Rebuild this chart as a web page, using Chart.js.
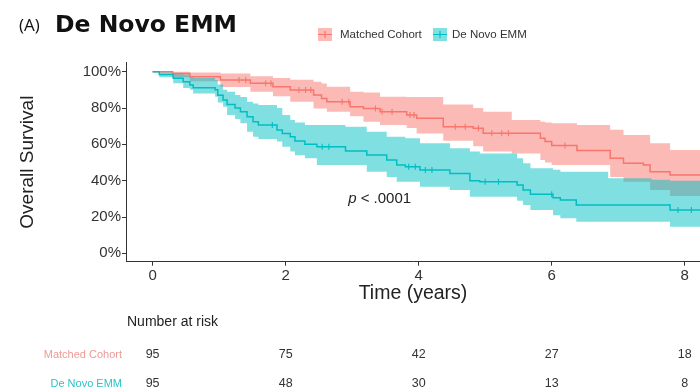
<!DOCTYPE html>
<html>
<head>
<meta charset="utf-8">
<script src="https://cdn.jsdelivr.net/npm/chart.js@4.4.1/dist/chart.umd.min.js"></script>
<style>
  html, body { margin: 0; padding: 0; background: #fff; }
  #wrap { position: relative; width: 700px; height: 389px; }
</style>
</head>
<body>
<div id="wrap"><canvas id="km"></canvas></div>
<script>
// Matched Cohort : temps (années), survie, IC haut / bas
const matchedTimes = [0, 0.3, 0.56, 1.02, 1.47, 1.81, 2.07, 2.42, 2.54, 2.62, 2.97, 3.17, 3.42, 3.82, 3.97, 4.37, 4.82, 4.97, 5.4, 5.83, 5.9, 6.0, 6.38, 6.88, 7.08, 7.38, 7.48, 7.78, 8.25];
const matchedSurv  = [1, 0.99, 0.972, 0.954, 0.936, 0.917, 0.899, 0.872, 0.853, 0.835, 0.807, 0.798, 0.78, 0.762, 0.743, 0.697, 0.688, 0.661, 0.661, 0.633, 0.615, 0.593, 0.566, 0.523, 0.496, 0.486, 0.449, 0.431, 0.431];
const matchedUpper = [1, 1, 0.995, 0.99, 0.975, 0.965, 0.955, 0.945, 0.935, 0.917, 0.89, 0.885, 0.862, 0.86, 0.86, 0.82, 0.80, 0.78, 0.734, 0.725, 0.72, 0.716, 0.706, 0.68, 0.651, 0.651, 0.606, 0.569, 0.569];
const matchedLower = [1, 0.97, 0.948, 0.915, 0.89, 0.865, 0.835, 0.798, 0.798, 0.78, 0.755, 0.725, 0.706, 0.69, 0.66, 0.62, 0.59, 0.56, 0.55, 0.514, 0.5, 0.486, 0.486, 0.42, 0.394, 0.394, 0.349, 0.315, 0.315];
const matchedCensor = [1.3, 1.4, 1.7, 1.78, 2.2, 2.3, 2.38, 2.85, 2.95, 3.35, 3.45, 3.6, 3.87, 3.93, 4.55, 4.7, 4.9, 5.1, 5.25, 5.35, 6.2];

// De Novo EMM
const novoTimes = [0, 0.1, 0.31, 0.46, 0.56, 0.61, 0.94, 0.98, 1.06, 1.12, 1.24, 1.32, 1.42, 1.51, 1.59, 1.87, 1.95, 2.07, 2.14, 2.29, 2.47, 2.9, 3.22, 3.52, 3.67, 3.8, 4.02, 4.47, 4.77, 4.92, 5.48, 5.57, 5.68, 6.02, 6.13, 6.37, 6.85, 7.1, 7.5, 7.78, 8.25];
const novoSurv  = [1, 0.985, 0.964, 0.945, 0.927, 0.912, 0.9, 0.87, 0.844, 0.82, 0.80, 0.78, 0.752, 0.725, 0.706, 0.679, 0.66, 0.642, 0.618, 0.60, 0.587, 0.563, 0.541, 0.514, 0.486, 0.477, 0.459, 0.44, 0.40, 0.394, 0.376, 0.349, 0.325, 0.306, 0.293, 0.266, 0.266, 0.266, 0.266, 0.238, 0.238];
const novoUpper = [1, 1, 0.99, 0.985, 0.975, 0.965, 0.954, 0.93, 0.9, 0.89, 0.872, 0.86, 0.835, 0.825, 0.817, 0.8, 0.762, 0.734, 0.72, 0.706, 0.706, 0.697, 0.67, 0.642, 0.642, 0.633, 0.606, 0.578, 0.56, 0.55, 0.523, 0.496, 0.468, 0.46, 0.449, 0.449, 0.413, 0.413, 0.405, 0.40, 0.40];
const novoLower = [1, 0.97, 0.936, 0.91, 0.9, 0.88, 0.862, 0.83, 0.807, 0.762, 0.74, 0.716, 0.67, 0.642, 0.63, 0.615, 0.587, 0.56, 0.54, 0.523, 0.486, 0.486, 0.449, 0.42, 0.394, 0.394, 0.367, 0.349, 0.312, 0.312, 0.29, 0.266, 0.238, 0.21, 0.193, 0.174, 0.174, 0.174, 0.174, 0.146, 0.146];
const novoCensor = [1.8, 2.55, 2.65, 3.85, 3.95, 4.1, 4.2, 5.0, 5.2, 6.0, 7.9, 8.1];

// Nombre à risque
const groupNames = ['Matched Cohort', 'De Novo EMM'];
const riskTimes = [0, 2, 4, 6, 8];
const matchedRisk = [95, 75, 42, 27, 18];
const novoRisk = [95, 48, 30, 13, 8];

const xTicks = [0, 2, 4, 6, 8];
const yTicks = [0, 0.2, 0.4, 0.6, 0.8, 1];

const redLine = '#F8766D', redBand = 'rgba(248,118,109,0.5)';
const tealLine = '#00BFC4', tealBand = 'rgba(0,191,196,0.5)';

function toPoints(times, values) {
    let pts = [];
    for (let i = 0; i < times.length; i++) {
        pts.push({ x: times[i], y: values[i] });
    }
    return pts;
}

// survie à l'instant t (fonction en escalier)
function survAt(times, surv, t) {
    let s = surv[0];
    for (let i = 0; i < times.length; i++) {
        if (times[i] <= t) s = surv[i];
    }
    return s;
}

function censorPoints(times, surv, cens) {
    return cens.map(t => ({ x: t, y: survAt(times, surv, t) }));
}

function band(label, times, values, color, fill, order) {
    return {
        label: label, data: toPoints(times, values), stepped: true,
        borderWidth: 0, pointRadius: 0, backgroundColor: color,
        fill: fill, order: order
    };
}

const decor = {
    id: 'decor',
    afterDraw(chart) {
        const ctx = chart.ctx;
        const xs = chart.scales.x, ys = chart.scales.y;
        ctx.save();

        // titre
        ctx.fillStyle = '#111';
        ctx.textAlign = 'left';
        ctx.textBaseline = 'alphabetic';
        ctx.font = '17px "Open Sans", sans-serif';
        ctx.fillText('(A)', 19, 31);
        ctx.font = 'bold 23.5px "DejaVu Sans", sans-serif';
        ctx.fillText('De Novo EMM', 55, 32);

        // légende
        const keys = [[318, redLine, redBand, groupNames[0], 340], [433, tealLine, tealBand, groupNames[1], 452]];
        ctx.font = '11.5px "Liberation Sans", Arial, sans-serif';
        ctx.textBaseline = 'middle';
        keys.forEach(k => {
            ctx.fillStyle = k[2];
            ctx.fillRect(k[0], 28, 14, 13);
            ctx.strokeStyle = k[1];
            ctx.lineWidth = 1.2;
            ctx.beginPath();
            ctx.moveTo(k[0], 34.5); ctx.lineTo(k[0] + 14, 34.5);
            ctx.moveTo(k[0] + 7, 31); ctx.lineTo(k[0] + 7, 38);
            ctx.stroke();
            ctx.fillStyle = '#333';
            ctx.fillText(k[3], k[4], 35);
        });

        // p-value
        const px = xs.getPixelForValue(2.94), py = ys.getPixelForValue(0.30);
        ctx.fillStyle = '#222';
        ctx.font = 'italic 15px "Liberation Sans", Arial, sans-serif';
        ctx.fillText('p', px, py);
        const pw = ctx.measureText('p').width;
        ctx.font = '15px "Liberation Sans", Arial, sans-serif';
        ctx.fillText(' < .0001', px + pw, py);

        // nombre à risque
        ctx.fillStyle = '#222';
        ctx.font = '14px "Liberation Sans", Arial, sans-serif';
        ctx.fillText('Number at risk', 127, 322);

        const rows = [[matchedRisk, '#EE9A95', 355], [novoRisk, '#2CC3C7', 384]];
        rows.forEach((r, j) => {
            ctx.textAlign = 'right';
            ctx.fillStyle = r[1];
            ctx.font = '11px "Liberation Sans", Arial, sans-serif';
            ctx.fillText(groupNames[j], 122, r[2]);
            ctx.textAlign = 'center';
            ctx.fillStyle = '#333';
            ctx.font = '12.5px "Liberation Sans", Arial, sans-serif';
            for (let i = 0; i < riskTimes.length; i++) {
                ctx.fillText(String(r[0][i]), xs.getPixelForValue(riskTimes[i]), r[2]);
            }
        });
        ctx.restore();
    }
};

const config = {
    type: 'line',
    data: {
        datasets: [
            band('matchedUpper', matchedTimes, matchedUpper, redBand, { target: '+1' }, 5),
            band('matchedLower', matchedTimes, matchedLower, redBand, false, 5),
            band('novoUpper', novoTimes, novoUpper, tealBand, { target: '+1' }, 4),
            band('novoLower', novoTimes, novoLower, tealBand, false, 4),
            {
                label: groupNames[0], data: toPoints(matchedTimes, matchedSurv), stepped: true,
                borderColor: redLine, borderWidth: 1.5, pointRadius: 0, fill: false, order: 2
            },
            {
                label: groupNames[1], data: toPoints(novoTimes, novoSurv), stepped: true,
                borderColor: tealLine, borderWidth: 1.5, pointRadius: 0, fill: false, order: 1
            },
            {
                label: 'cens1', data: censorPoints(matchedTimes, matchedSurv, matchedCensor), showLine: false,
                pointStyle: 'line', rotation: 90, pointRadius: 3, borderColor: redLine, borderWidth: 1.1, order: 0
            },
            {
                label: 'cens2', data: censorPoints(novoTimes, novoSurv, novoCensor), showLine: false,
                pointStyle: 'line', rotation: 90, pointRadius: 3, borderColor: tealLine, borderWidth: 1.1, order: 0
            }
        ]
    },
    options: {
        responsive: true,
        maintainAspectRatio: false,
        animation: false,
        layout: { autoPadding: false, padding: { top: 62.6, right: 0, bottom: 82, left: 0 } },
        plugins: {
            legend: { display: false },
            tooltip: { enabled: false }
        },
        scales: {
            x: {
                type: 'linear', min: -0.4, max: 8.23,
                afterBuildTicks: s => { s.ticks = xTicks.map(v => ({ value: v })); },
                afterFit: s => { s.height = 45.3; },
                grid: { drawOnChartArea: false, drawTicks: true, tickLength: 4, color: '#333' },
                border: { display: true, color: '#333', width: 1 },
                ticks: { color: '#333', padding: 1, font: { family: '"Liberation Sans", Arial, sans-serif', size: 15 } },
                title: {
                    display: true, text: 'Time (years)', color: '#222',
                    padding: { top: 0, bottom: 2 },
                    font: { family: '"Liberation Sans", Arial, sans-serif', size: 19.5 }
                }
            },
            y: {
                type: 'linear', min: -0.046, max: 1.05,
                afterBuildTicks: s => { s.ticks = yTicks.map(v => ({ value: v })); },
                afterFit: s => { s.width = 126; },
                grid: { drawOnChartArea: false, drawTicks: true, tickLength: 4, color: '#333' },
                border: { display: true, color: '#333', width: 1 },
                ticks: {
                    color: '#333', padding: 1,
                    font: { family: '"Liberation Sans", Arial, sans-serif', size: 15 },
                    callback: v => Math.round(v * 100) + '%'
                },
                title: {
                    display: true, text: 'Overall Survival', color: '#222',
                    padding: { top: 16.5, bottom: 0 },
                    font: { family: '"Liberation Sans", Arial, sans-serif', size: 19 }
                }
            }
        }
    },
    plugins: [decor]
};

window.addEventListener('load', () => {
    new Chart(document.getElementById('km').getContext('2d'), config);
});
</script>
</body>
</html>
